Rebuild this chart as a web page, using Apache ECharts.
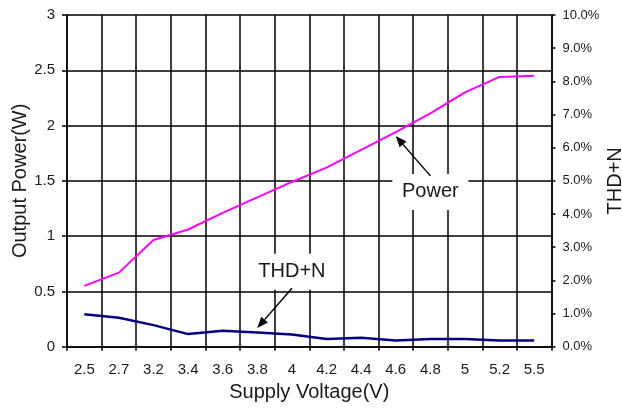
<!DOCTYPE html>
<html>
<head>
<meta charset="utf-8">
<script src="https://cdn.jsdelivr.net/npm/echarts@6/dist/echarts.min.js"></script>
<style>html,body{margin:0;padding:0;background:#fff}#c{width:622px;height:409px}</style>
</head>
<body>
<div id="c"></div>
<script>
const categories = ['2.5','2.7','3.2','3.4','3.6','3.8','4','4.2','4.4','4.6','4.8','5','5.2','5.5'];
const powerW = [0.55,0.67,0.965,1.06,1.21,1.35,1.49,1.62,1.78,1.94,2.11,2.30,2.44,2.45];
const thdPct = [0.98,0.87,0.65,0.38,0.48,0.43,0.37,0.23,0.27,0.19,0.23,0.23,0.19,0.19];
const leftTicks = [0,0.5,1,1.5,2,2.5,3];
const rightTicks = [0,1,2,3,4,5,6,7,8,9,10];
// annotations: [categoryIndex, leftAxisValue]
const powerLabelAt = [10.04, 1.40];
const powerArrowFrom = [9.9, 1.545];
const powerArrowTo = [8.86, 1.905];
const thdLabelAt = [6.43, 0.678];
const thdArrowFrom = [6.23, 0.528];
const thdArrowTo = [5.21, 0.17];

const FONT = '"Liberation Sans", Arial, sans-serif';
const INK = '#1a1a1a';
const chart = echarts.init(document.getElementById('c'), null, {renderer:'canvas'});
chart.setOption({
  animation:false,
  backgroundColor:'#fff',
  grid:{left:67,right:70.5,top:15,bottom:62.3,containLabel:false,outerBoundsMode:'none'},
  xAxis:{
    type:'category', data:categories, boundaryGap:true,
    name:'Supply Voltage(V)', nameLocation:'middle', nameGap:36, nameMoveOverlap:false,
    nameTextStyle:{fontFamily:FONT,fontSize:20,color:INK},
    axisLine:{lineStyle:{color:'#000',width:1.5}},
    axisTick:{show:true,interval:0,length:4,lineStyle:{color:'#000',width:1.5}},
    axisLabel:{interval:0,fontFamily:FONT,fontSize:15,color:INK,margin:16},
    splitLine:{show:true,interval:0,lineStyle:{color:'#000',width:1.5}}
  },
  yAxis:[{
    type:'value', min:leftTicks[0], max:leftTicks[leftTicks.length-1], interval:0.5,
    name:'Output Power(W)', nameLocation:'middle', nameGap:37, nameRotate:90, nameMoveOverlap:false,
    nameTextStyle:{fontFamily:FONT,fontSize:20,color:INK},
    axisLine:{show:true,lineStyle:{color:'#000',width:1.5}},
    axisTick:{show:true,length:5,lineStyle:{color:'#000',width:1.5}},
    axisLabel:{fontFamily:FONT,fontSize:15,color:INK,margin:12,formatter:v=>String(v)},
    splitLine:{show:true,lineStyle:{color:'#000',width:1.5}}
  },{
    type:'value', min:rightTicks[0], max:rightTicks[rightTicks.length-1], interval:1, position:'right',
    name:'THD+N', nameLocation:'middle', nameGap:54, nameRotate:90, nameMoveOverlap:false,
    nameTextStyle:{fontFamily:FONT,fontSize:20,color:INK},
    axisLine:{show:true,lineStyle:{color:'#000',width:1.5}},
    axisTick:{show:true,length:4,lineStyle:{color:'#000',width:1.5}},
    axisLabel:{fontFamily:FONT,fontSize:13,color:INK,margin:11,formatter:v=>v.toFixed(1)+'%'},
    splitLine:{show:false}
  }],
  series:[{
    name:'Power', type:'line', data:powerW, yAxisIndex:0, symbol:'none',
    lineStyle:{color:'#ff00ff',width:2}, z:5
  },{
    name:'THD+N', type:'line', data:thdPct, yAxisIndex:1, symbol:'none',
    lineStyle:{color:'#000080',width:2.5}, z:5
  }]
});

function px(p){ return chart.convertToPixel({gridIndex:0}, p); }
function labelBox(text, at){
  const c = px(at);
  const w = 76, h = 36;
  return [
    {type:'rect', shape:{x:c[0]-w/2,y:c[1]-h/2,width:w,height:h}, style:{fill:'#fff'}, z:10},
    {type:'text', x:c[0], y:c[1], style:{text:text, font:'20px '+FONT, fill:INK, align:'center', verticalAlign:'middle'}, z:11}
  ];
}
function arrow(from, to){
  const a = px(from), b = px(to);
  const dx = b[0]-a[0], dy = b[1]-a[1];
  const L = Math.hypot(dx,dy), ux = dx/L, uy = dy/L;
  const hl = 11, hw = 4.5;
  const bx = b[0]-ux*hl, by = b[1]-uy*hl;
  return [
    {type:'line', shape:{x1:a[0],y1:a[1],x2:bx,y2:by}, style:{stroke:'#000',lineWidth:1.5}, z:12},
    {type:'polygon', shape:{points:[[b[0],b[1]],[bx-uy*hw,by+ux*hw],[bx+uy*hw,by-ux*hw]]}, style:{fill:'#000'}, z:12}
  ];
}
chart.setOption({graphic:[].concat(
  labelBox('Power', powerLabelAt),
  labelBox('THD+N', thdLabelAt),
  arrow(powerArrowFrom, powerArrowTo),
  arrow(thdArrowFrom, thdArrowTo)
)});
</script>
</body>
</html>
